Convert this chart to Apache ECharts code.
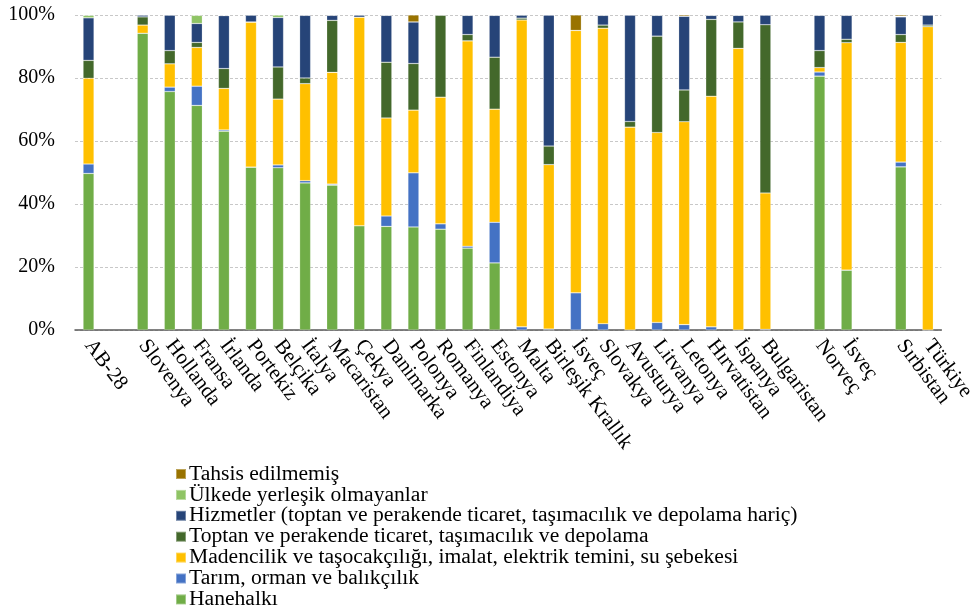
<!DOCTYPE html>
<html>
<head>
<meta charset="utf-8">
<script src="https://cdn.jsdelivr.net/npm/echarts@6/dist/echarts.min.js"></script>
<style>html,body{margin:0;padding:0;background:#fff}#c{width:978px;height:613px}</style>
</head>
<body>
<div id="c"></div>
<script>
var categories = ['AB-28',' ','Slovenya','Hollanda','Fransa','İrlanda','Portekiz','Belçika','İtalya','Macaristan','Çekya','Danimarka','Polonya','Romanya','Finlandiya','Estonya','Malta','Birleşik Krallık','İsveç','Slovakya','Avusturya','Litvanya','Letonya','Hırvatistan','İspanya','Bulgaristan','  ','Norveç','İsveç','   ','Sırbistan','Türkiye'];
var yTicks = [0, 20, 40, 60, 80, 100];
var hanehalki  = [49.7,null,94.2,75.7,71.3,63.1,51.7,51.5,46.7,46.0,33.1,32.9,32.7,32.0,26.0,21.3,0,0,0,0,0,0,0,0,0,0,null,80.6,19.0,null,51.8,0];
var tarim      = [3.0,null,0,1.4,6.1,0.4,0,0.9,0.7,0.3,0,3.3,17.2,1.7,0.6,12.9,1.0,0.3,11.8,2.0,0,2.4,1.7,1.0,0,0.2,null,1.3,0,null,1.5,0];
var madencilik = [27.2,null,2.6,7.4,12.3,13.2,46.0,20.9,30.8,35.5,66.2,31.1,19.9,40.2,65.2,35.9,97.4,52.2,83.3,93.8,64.4,60.3,64.4,73.2,89.4,43.3,null,1.4,72.2,null,38.0,96.3];
var toptan     = [5.7,null,2.6,4.2,1.6,6.3,0.1,10.2,1.8,16.5,0,17.7,14.8,26.1,2.0,16.5,0.6,5.9,0,1.0,1.8,30.6,10.1,24.4,8.4,53.4,null,5.4,1.1,null,2.5,0.5];
var hizmetler  = [13.5,null,0.6,11.3,6.0,16.8,2.2,15.7,19.9,1.6,0.7,14.9,13.2,0,6.1,13.3,1.0,41.6,0,3.1,33.8,6.6,23.4,1.3,2.1,3.1,null,11.2,7.6,null,5.6,3.2];
var ulkede     = [0.8,null,0,0,2.6,0.1,0,0.8,0.1,0.1,0,0,0,0,0,0,0,0,0,0,0,0,0,0,0,0,null,0.1,0.1,null,0.2,0];
var tahsis     = [0.1,null,0,0,0,0,0,0,0,0,0,0.1,2.2,0,0.1,0.1,0,0,4.9,0.1,0,0.1,0.4,0.1,0.1,0,null,0,0,null,0.4,0];

var seriesNames = ['Hanehalkı','Tarım, orman ve balıkçılık','Madencilik ve taşocakçılığı, imalat, elektrik temini, su şebekesi','Toptan ve perakende ticaret, taşımacılık ve depolama','Hizmetler (toptan ve perakende ticaret, taşımacılık ve depolama hariç)','Ülkede yerleşik olmayanlar','Tahsis edilmemiş'];
var seriesData = [hanehalki, tarim, madencilik, toptan, hizmetler, ulkede, tahsis];
var colors = ['#70AD47','#4472C4','#FFC000','#43682B','#264478','#8FC465','#997300'];

var font = '"Liberation Serif", "Times New Roman", serif';
var chart = echarts.init(document.getElementById('c'), null, {renderer:'canvas'});
chart.setOption({
  animation: false,
  color: colors,
  grid: {left: 75, right: 35, top: 15, bottom: 283, containLabel: false},
  legend: {
    orient: 'vertical', left: 175, top: 463, height: 200, padding: 0,
    itemWidth: 10, itemHeight: 10, itemGap: -1.1,
    data: seriesNames.slice().reverse(),
    textStyle: {fontFamily: font, fontSize: 21.6, color: '#000', lineHeight: 20, padding: [0,0,0,-2]},
    icon: 'rect'
  },
  xAxis: {
    type: 'category', data: categories,
    axisLine: {lineStyle: {color: '#595959', width: 1.5}},
    axisTick: {show: false},
    axisLabel: {interval: 0, rotate: -53, margin: 12, fontFamily: font, fontSize: 21, color: '#000'}
  },
  yAxis: {
    type: 'value', min: yTicks[0], max: yTicks[yTicks.length-1], interval: 20,
    axisLine: {show: false}, axisTick: {show: false},
    axisLabel: {formatter: '{value}%', margin: 20, fontFamily: font, fontSize: 20, color: '#000'},
    splitLine: {lineStyle: {color: '#C8C8C8', type: [3,2], width: 1}}
  },
  series: seriesNames.map(function(n, i){
    return {
      name: n, type: 'bar', stack: 'total', barWidth: 11,
      data: seriesData[i],
      itemStyle: {color: colors[i], borderColor: 'rgba(255,255,255,0.35)', borderWidth: 0.6}
    };
  })
});
</script>
</body>
</html>
